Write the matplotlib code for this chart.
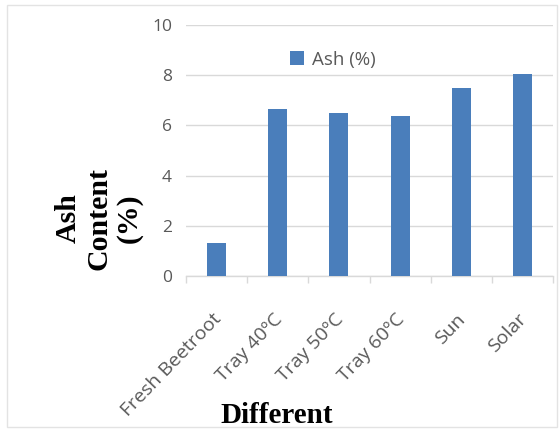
import numpy as np
import matplotlib.pyplot as plt
from matplotlib.patches import Rectangle
from matplotlib.transforms import ScaledTranslation

# data
methods = ["Fresh Beetroot", "Tray 40ºC", "Tray 50ºC", "Tray 60ºC", "Sun", "Solar"]
ash_pct = [1.3, 6.65, 6.48, 6.39, 7.48, 8.05]
y_ticks = [0, 2, 4, 6, 8, 10]

tick_font = "Open Sans"
label_font = "Liberation Serif"
gray_txt = "#595959"
grid_col = "#d9d9d9"
bar_col = "#4A7EBB"

W, H = 559, 429
fig = plt.figure(figsize=(W / 100, H / 100), dpi=100)

# light outer frame like the pasted chart box
fig.patches.append(Rectangle((7 / W, 1 - 427 / H), 550 / W, 422 / H,
                             transform=fig.transFigure, fill=False,
                             edgecolor="#e3e3e3", linewidth=1))

ax = fig.add_axes([186 / W, 1 - 276 / H, 367 / W, 251 / H])
x = np.arange(len(methods))
ax.bar(x, ash_pct, width=0.31, color=bar_col, label="Ash (%)", zorder=3)

ax.set_ylim(0, 10)
ax.set_yticks(y_ticks)
ax.set_xlim(-0.5, len(methods) - 0.5)
ax.grid(axis="y", color=grid_col, linewidth=1, zorder=0)

for s in ["top", "right", "left"]:
    ax.spines[s].set_visible(False)
ax.spines["bottom"].set_color(grid_col)
ax.spines["bottom"].set_linewidth(1)

ax.tick_params(axis="y", length=0, pad=10, labelcolor=gray_txt, labelsize=12.5)
for t in ax.get_yticklabels():
    t.set_fontfamily(tick_font)

# category boundary ticks
ax.set_xticks(np.arange(-0.5, len(methods)), minor=True)
ax.tick_params(axis="x", which="minor", length=5, color=grid_col, width=1)
ax.set_xticks(x)
ax.set_xticklabels(methods, rotation=46, ha="right", va="center",
                   rotation_mode="anchor", fontfamily=tick_font, fontsize=14,
                   color=gray_txt)
ax.tick_params(axis="x", which="major", length=0, pad=29)
shift = ScaledTranslation(1 / 72, 0, fig.dpi_scale_trans)
for t in ax.get_xticklabels():
    t.set_transform(t.get_transform() + shift)

leg = ax.legend(loc="center left", bbox_to_anchor=(0.283, 0.862), frameon=False,
                borderaxespad=0, borderpad=0, handlelength=0.75, handleheight=0.75,
                handletextpad=0.45, prop={"family": tick_font, "size": 13.5})
for t in leg.get_texts():
    t.set_color(gray_txt)

fig.text(99 / W, 1 - 218 / H, "Ash\nContent\n(%)", rotation=90, ha="center",
         va="center", fontfamily=label_font, fontweight="bold", fontsize=21.5,
         linespacing=1.15, multialignment="center")
fig.text(277 / W, 1 - 423 / H, "Different", ha="center", va="baseline",
         fontfamily=label_font, fontweight="bold", fontsize=21)

plt.savefig("out.png", dpi=100)
